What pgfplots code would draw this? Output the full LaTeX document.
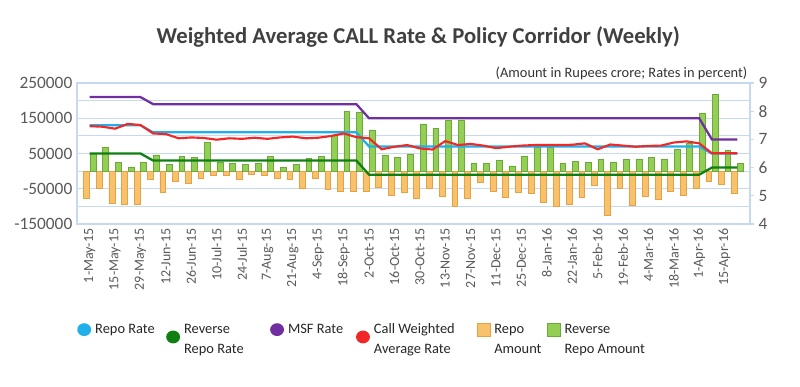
\documentclass[border=0pt]{standalone}
\usepackage{fontspec}
\setmainfont{Carlito}
\usepackage{pgfplots}
\usepackage{pgfplotstable}
\pgfplotsset{compat=1.18}
\definecolor{gridc}{HTML}{C6D9F0}
\definecolor{repoc}{HTML}{1FB0EC}
\definecolor{revc}{HTML}{0F7F12}
\definecolor{msfc}{HTML}{7030A0}
\definecolor{callc}{HTML}{F02828}
\definecolor{ramt}{HTML}{F8C16C}
\definecolor{ramtd}{HTML}{E5A244}
\definecolor{rramt}{HTML}{93CE55}
\definecolor{rramtd}{HTML}{6DA93A}
\definecolor{txt}{HTML}{595959}
\definecolor{ttl}{HTML}{404040}

\pgfplotstableread{
x ramt rramt repo rev msf call
0 -76000 51000 7.50 6.50 8.50 7.47
1 -48000 67000 7.50 6.50 8.50 7.45
2 -92000 25000 7.50 6.50 8.50 7.38
3 -95000 12000 7.50 6.50 8.50 7.55
4 -95000 25000 7.50 6.50 8.50 7.51
5 -22000 46000 7.25 6.25 8.25 7.21
6 -60000 19000 7.25 6.25 8.25 7.19
7 -29000 42000 7.25 6.25 8.25 7.04
8 -35000 40000 7.25 6.25 8.25 7.07
9 -21000 81000 7.25 6.25 8.25 7.05
10 -12000 26000 7.25 6.25 8.25 6.99
11 -13000 21000 7.25 6.25 8.25 7.04
12 -24000 20000 7.25 6.25 8.25 7.02
13 -10000 21000 7.25 6.25 8.25 7.06
14 -12000 42000 7.25 6.25 8.25 7.02
15 -20000 11000 7.25 6.25 8.25 7.07
16 -24000 20000 7.25 6.25 8.25 7.10
17 -50000 36000 7.25 6.25 8.25 7.04
18 -21000 41000 7.25 6.25 8.25 7.06
19 -51000 103000 7.25 6.25 8.25 7.12
20 -56000 169000 7.25 6.25 8.25 7.21
21 -58000 168000 7.25 6.25 8.25 7.08
22 -58000 117000 6.75 5.75 7.75 7.04
23 -45000 46000 6.75 5.75 7.75 6.65
24 -69000 39000 6.75 5.75 7.75 6.74
25 -59000 49000 6.75 5.75 7.75 6.80
26 -78000 134000 6.75 5.75 7.75 6.68
27 -49000 122000 6.75 5.75 7.75 6.64
28 -72000 143000 6.75 5.75 7.75 6.94
29 -100000 143000 6.75 5.75 7.75 6.80
30 -77000 21000 6.75 5.75 7.75 6.84
31 -31000 21000 6.75 5.75 7.75 6.78
32 -56000 30000 6.75 5.75 7.75 6.69
33 -75000 15000 6.75 5.75 7.75 6.74
34 -60000 42000 6.75 5.75 7.75 6.78
35 -62000 67000 6.75 5.75 7.75 6.80
36 -89000 67000 6.75 5.75 7.75 6.80
37 -100000 21000 6.75 5.75 7.75 6.80
38 -93000 28000 6.75 5.75 7.75 6.81
39 -75000 25000 6.75 5.75 7.75 6.86
40 -41000 34000 6.75 5.75 7.75 6.65
41 -126000 26000 6.75 5.75 7.75 6.82
42 -48000 34000 6.75 5.75 7.75 6.78
43 -97000 35000 6.75 5.75 7.75 6.74
44 -70000 39000 6.75 5.75 7.75 6.77
45 -79000 34000 6.75 5.75 7.75 6.78
46 -56000 61000 6.75 5.75 7.75 6.89
47 -69000 80000 6.75 5.75 7.75 6.93
48 -48000 165000 6.75 5.75 7.75 6.86
49 -30000 217000 6.50 6.00 7.00 6.51
50 -37000 59000 6.50 6.00 7.00 6.51
51 -62000 23000 6.50 6.00 7.00 6.51
}\data

\begin{document}
\begin{tikzpicture}
\path[use as bounding box] (-57.75pt,-121.5pt) rectangle (542.25pt,168pt);
\begin{axis}[
  at={(0,0)}, anchor=south west,
  scale only axis, width=504.75pt, height=105.75pt,
  xmin=-1, xmax=52, ymin=-150000, ymax=250000,
  xtick={0,2,...,50},
  xticklabels={1-May-15,15-May-15,29-May-15,12-Jun-15,26-Jun-15,10-Jul-15,24-Jul-15,7-Aug-15,21-Aug-15,4-Sep-15,18-Sep-15,2-Oct-15,16-Oct-15,30-Oct-15,13-Nov-15,27-Nov-15,11-Dec-15,25-Dec-15,8-Jan-16,22-Jan-16,5-Feb-16,19-Feb-16,4-Mar-16,18-Mar-16,1-Apr-16,15-Apr-16},
  xticklabel style={rotate=90, anchor=east, font=\fontsize{10.5}{12}\selectfont, text=txt},
  ytick={-150000,-50000,50000,150000,250000},
  minor ytick={-100000,0,100000,200000},
  ymajorgrids, yminorgrids,
  major grid style={gridc, line width=0.8pt},
  minor grid style={gridc, line width=0.8pt},
  axis line style={gridc, line width=0.8pt},
  major tick length=0pt, minor tick length=0pt,
  scaled y ticks=false,
  yticklabel style={/pgf/number format/fixed, /pgf/number format/1000 sep={}, font=\fontsize{13}{15}\selectfont, text=txt},
  /pgf/number format/assume math mode=true,
]
\addplot[ybar, bar width=0.46, bar shift=-0.25, fill=ramt, draw=ramtd, line width=0.4pt] table[x=x,y=ramt]{\data};
\addplot[ybar, bar width=0.46, bar shift=0.25, fill=rramt, draw=rramtd, line width=0.4pt] table[x=x,y=rramt]{\data};
\end{axis}
\begin{axis}[
  at={(0,0)}, anchor=south west,
  scale only axis, width=504.75pt, height=105.75pt,
  xmin=-1, xmax=52, ymin=4, ymax=9,
  axis y line*=right, axis x line=none,
  ytick={4,...,9},
  y axis line style={gridc, line width=0.8pt},
  ytick style={gridc, line width=0.8pt},
  tick align=outside, major tick length=3pt,
  yticklabel style={font=\fontsize{13}{15}\selectfont, text=txt},
  /pgf/number format/assume math mode=true,
  legend columns=6,
  legend style={draw=none, fill=none, at={(axis description cs:0,-0.70)}, anchor=north west,
    inner sep=0pt, nodes={inner sep=0pt, text=black!85}, font=\fontsize{10.8}{15}\selectfont,
    /tikz/every even column/.append style={column sep=0pt}},
]
\addplot[repoc, line width=1.7pt, legend image code/.code={\path[draw=none,fill=none] (0,-3pt) rectangle (12.75pt,3pt); \fill[repoc, draw=none] (4.5pt,0) ellipse (5.2pt and 4.8pt);}] table[x=x,y=repo]{\data};
\addlegendentry{\parbox[t]{53.25pt}{Repo Rate}}
\addplot[revc, line width=1.7pt, legend image code/.code={\path[draw=none,fill=none] (0,-3pt) rectangle (12.75pt,3pt); \fill[revc, draw=none] (4.5pt,-5.5pt) ellipse (5.2pt and 4.8pt);}] table[x=x,y=rev]{\data};
\addlegendentry{\parbox[t]{64.5pt}{Reverse\\Repo Rate}}
\addplot[msfc, line width=1.7pt, legend image code/.code={\path[draw=none,fill=none] (0,-3pt) rectangle (12.75pt,3pt); \fill[msfc, draw=none] (4.5pt,0) ellipse (5.2pt and 4.8pt);}] table[x=x,y=msf]{\data};
\addlegendentry{\parbox[t]{51pt}{MSF Rate}}
\addplot[callc, line width=1.6pt, legend image code/.code={\path[draw=none,fill=none] (0,-3pt) rectangle (12.75pt,3pt); \fill[callc, draw=none] (4.5pt,-5.5pt) ellipse (5.2pt and 4.8pt);}] table[x=x,y=call]{\data};
\addlegendentry{\parbox[t]{77.25pt}{Call Weighted\\Average Rate}}
\addlegendimage{legend image code/.code={\path[draw=none,fill=none] (0,-3pt) rectangle (12.75pt,3pt); \filldraw[fill=ramt, draw=ramtd, line width=0.4pt] (0pt,-4.8pt) rectangle (9.5pt,4.8pt);}}
\addlegendentry{\parbox[t]{39.75pt}{Repo\\Amount}}
\addlegendimage{legend image code/.code={\path[draw=none,fill=none] (0,-3pt) rectangle (12.75pt,3pt); \filldraw[fill=rramt, draw=rramtd, line width=0.4pt] (0pt,-4.8pt) rectangle (9.5pt,4.8pt);}}
\addlegendentry{\parbox[t]{72pt}{Reverse\\Repo Amount}}
\end{axis}
\node[font=\bfseries\fontsize{17}{20}\selectfont, text=ttl] at (256pt,140pt) {Weighted Average CALL Rate \& Policy Corridor (Weekly)};
\node[anchor=east, font=\fontsize{10.8}{12}\selectfont, text=black!80] at (506.25pt,113.25pt) {(Amount in Rupees crore; Rates in percent)};
\end{tikzpicture}
\end{document}
